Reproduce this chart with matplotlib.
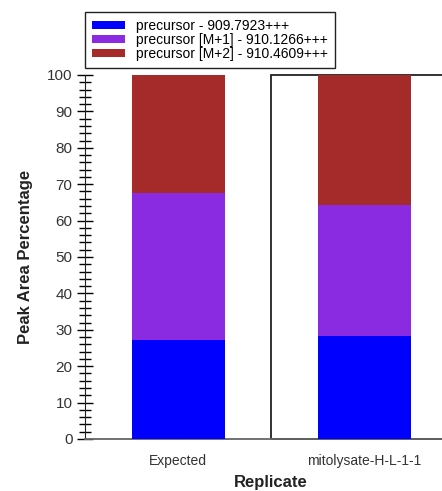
import matplotlib
matplotlib.use("Agg")
import matplotlib.pyplot as plt
from matplotlib.patches import Rectangle
from matplotlib.ticker import MultipleLocator
import numpy as np

plt.rcParams['font.family'] = ['Liberation Sans', 'DejaVu Sans']

replicates = ["Expected", "mitolysate-H-L-1-1"]
series_names = ["precursor - 909.7923+++",
                "precursor [M+1] - 910.1266+++",
                "precursor [M+2] - 910.4609+++"]
mono = [27.2, 28.4]
m1 = [40.5, 35.8]
m2 = [32.3, 35.8]
colors = ["#0000FF", "#8A2BE2", "#A52A2A"]

fig = plt.figure(figsize=(4.42, 4.91), dpi=100)
# plot area runs past the right edge of the image like in the original
ax = fig.add_axes([85 / 442, 52 / 491, 372 / 442, 364 / 491])

x = np.arange(len(replicates))
bottom = np.zeros(len(replicates))
for vals, name, col in zip([mono, m1, m2], series_names, colors):
    ax.bar(x, vals, width=0.5, bottom=bottom, color=col, label=name,
           linewidth=0, zorder=3)
    bottom += np.array(vals)

# box round the selected replicate
ax.add_patch(Rectangle((0.5, 0), 1.0, 100, fill=False, edgecolor="#222222",
                       linewidth=1.3, zorder=2, clip_on=False))

ax.set_xlim(-0.5, 1.5)
ax.set_ylim(0, 100)
ax.set_xticks(x)
ax.set_xticklabels(replicates, fontsize=10, color="#333333")
ax.yaxis.set_major_locator(MultipleLocator(10))
ax.yaxis.set_minor_locator(MultipleLocator(2))
ax.tick_params(axis='y', which='major', direction='inout', length=12,
               width=1, labelsize=11, labelcolor="#333333", pad=3)
ax.tick_params(axis='y', which='minor', direction='inout', length=8, width=1)
ax.tick_params(axis='x', which='major', direction='in', length=6, width=1,
               pad=11)

for s in ['top', 'right']:
    ax.spines[s].set_visible(False)
ax.spines['left'].set_color("#222222")
ax.spines['bottom'].set_color("#666666")
ax.spines['bottom'].set_linewidth(1.3)

ax.set_xlabel("Replicate", fontsize=12, fontweight='bold', color="#222222",
              labelpad=5)
ax.set_ylabel("Peak Area Percentage", fontsize=12, fontweight='bold',
              color="#222222", labelpad=10)

leg = fig.legend(loc='upper left', bbox_to_anchor=(85 / 442, 1 - 12 / 491),
                 fontsize=10, frameon=True, fancybox=False, framealpha=1,
                 edgecolor="#222222", handlelength=2.4, handleheight=0.5,
                 handletextpad=0.8, labelspacing=0.0, borderpad=0.5,
                 borderaxespad=0)
leg.get_frame().set_linewidth(1.0)

fig.savefig("out.png", dpi=100)
